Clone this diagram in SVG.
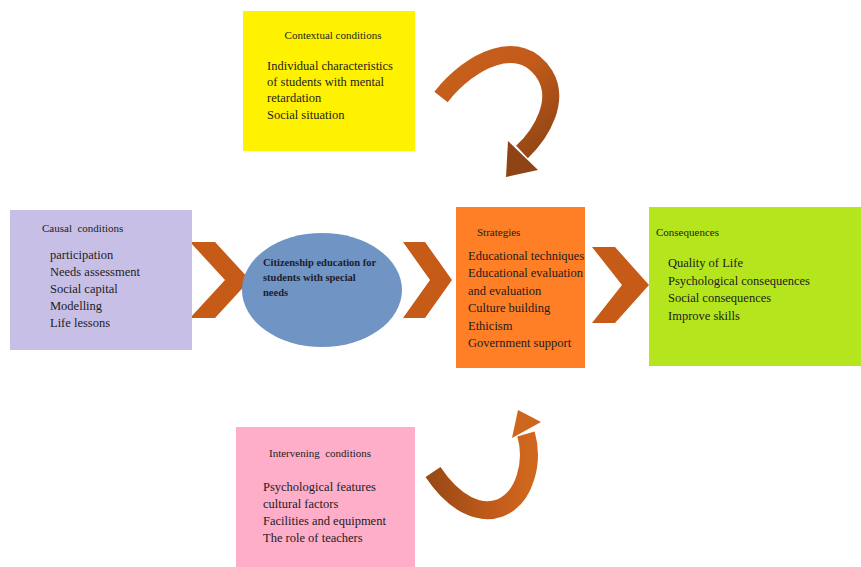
<svg xmlns="http://www.w3.org/2000/svg" width="861" height="567" viewBox="0 0 861 567">
<style>
.t{font-family:"Liberation Serif","Times New Roman",serif;fill:#1c1c1c;font-size:11px}
.i{font-family:"Liberation Serif","Times New Roman",serif;fill:#1c1c1c;font-size:12.5px}
.e{font-family:"Liberation Serif","Times New Roman",serif;fill:#1c1c2c;font-size:10.5px;font-weight:bold}
.chev{fill:#C55B17}
</style>
<defs>
<linearGradient id="gTop" x1="0" y1="0" x2="1" y2="1">
<stop offset="0" stop-color="#C8611C"/>
<stop offset="0.45" stop-color="#C25B1A"/>
<stop offset="1" stop-color="#8E4414"/>
</linearGradient>
<linearGradient id="gBot" x1="0" y1="0" x2="1" y2="0">
<stop offset="0" stop-color="#9A4A16"/>
<stop offset="0.6" stop-color="#C05A1A"/>
<stop offset="1" stop-color="#D0671E"/>
</linearGradient>
</defs>
<rect width="861" height="567" fill="#ffffff"/>

<g id="connectors">
<polygon class="chev" points="190,242 215,242 250,280 215,318 190,318 225,280"/>
<polygon class="chev" points="403,242 425,242 452,280 425,318 403,318 430,280"/>
<polygon class="chev" points="592,247 615,247 649,285 615,323 592,323 622,285"/>
<g id="arrow-top">
<path d="M441 97 C470 60 520 35 545 75 C560 100 543 132 522 152" fill="none" stroke="url(#gTop)" stroke-width="17"/>
<polygon points="508,141 538,170 506,177" fill="#8E4414"/>
</g>
<g id="arrow-bottom">
<path d="M433 472 C455 505 480 515 500 508 C525 498 534 462 526 434" fill="none" stroke="url(#gBot)" stroke-width="18"/>
<polygon points="512,438 541,422 518,410" fill="#CF661E"/>
</g>
</g>

<g id="contextual">
<rect x="243" y="11" width="172" height="140" fill="#FFF200"/>
<text class="t" x="333" y="39" text-anchor="middle">Contextual conditions</text>
<text class="i" x="267" y="70">Individual characteristics</text>
<text class="i" x="267" y="86">of students with mental</text>
<text class="i" x="267" y="102">retardation</text>
<text class="i" x="267" y="119">Social situation</text>
</g>

<g id="causal">
<rect x="10" y="210" width="182" height="140" fill="#C8BFE7"/>
<text class="t" x="42" y="232" xml:space="preserve">Causal  conditions</text>
<text class="i" x="50" y="259">participation</text>
<text class="i" x="50" y="276">Needs assessment</text>
<text class="i" x="50" y="293">Social capital</text>
<text class="i" x="50" y="310">Modelling</text>
<text class="i" x="50" y="327">Life lessons</text>
</g>

<g id="citizenship">
<ellipse cx="322" cy="290" rx="80" ry="57" fill="#7094C4"/>
<text class="e" x="263" y="266">Citizenship education for</text>
<text class="e" x="263" y="281">students with special</text>
<text class="e" x="263" y="296">needs</text>
</g>

<g id="strategies">
<rect x="456" y="207" width="129" height="161" fill="#FF7F27"/>
<text class="t" x="477" y="236">Strategies</text>
<text class="i" x="468" y="260">Educational techniques</text>
<text class="i" x="468" y="277">Educational evaluation</text>
<text class="i" x="468" y="295">and evaluation</text>
<text class="i" x="468" y="312">Culture building</text>
<text class="i" x="468" y="330">Ethicism</text>
<text class="i" x="468" y="347">Government support</text>
</g>

<g id="consequences">
<rect x="649" y="207" width="212" height="159" fill="#B5E61D"/>
<text class="t" x="656" y="236">Consequences</text>
<text class="i" x="668" y="267">Quality of Life</text>
<text class="i" x="668" y="285">Psychological consequences</text>
<text class="i" x="668" y="302">Social consequences</text>
<text class="i" x="668" y="320">Improve skills</text>
</g>

<g id="intervening">
<rect x="236" y="427" width="179" height="140" fill="#FFAEC9"/>
<text class="t" x="269" y="457" xml:space="preserve">Intervening  conditions</text>
<text class="i" x="263" y="491">Psychological features</text>
<text class="i" x="263" y="508">cultural factors</text>
<text class="i" x="263" y="525">Facilities and equipment</text>
<text class="i" x="263" y="542">The role of teachers</text>
</g>
</svg>
